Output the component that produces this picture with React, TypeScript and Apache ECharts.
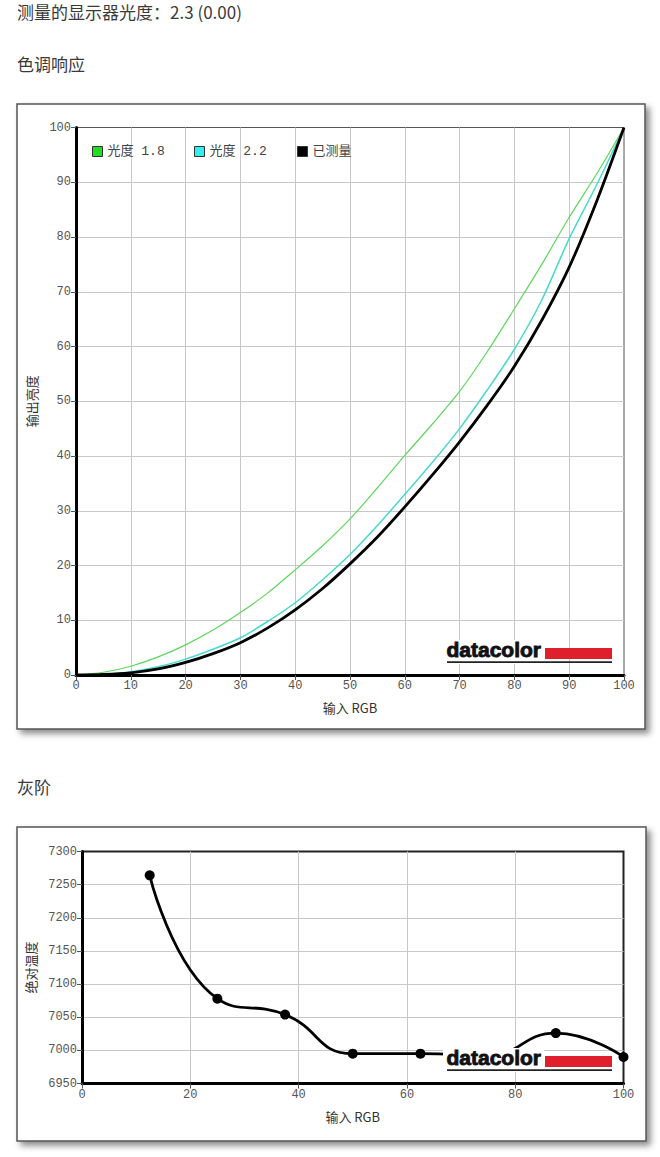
import React, { useEffect, useRef } from "react";
import * as echarts from "echarts";

const inputLevels = [0, 5, 10, 15, 20, 25, 30, 35, 40, 45, 50, 55, 60, 65, 70, 75, 80, 85, 90, 95, 100];
const gamma18 = [0, 0.5, 1.6, 3.3, 5.5, 8.2, 11.4, 15.0, 19.2, 23.6, 28.5, 34.2, 40.1, 45.8, 51.8, 59.0, 66.9, 75.0, 83.6, 91.5, 100];
const gamma22 = [0, 0.1, 0.6, 1.5, 2.9, 4.7, 6.8, 9.8, 13.2, 17.4, 22.0, 27.3, 33.0, 38.8, 45.0, 52.0, 59.5, 68.5, 79.7, 89.5, 100];
const measured = [0, 0.1, 0.4, 1.1, 2.3, 3.9, 5.9, 8.6, 11.9, 15.8, 20.3, 25.2, 30.7, 36.5, 42.6, 49.2, 56.4, 64.8, 74.5, 86.5, 100];

const grayInput = [12.5, 25, 37.5, 50, 62.5, 75, 87.5, 100];
const grayTemp = [7264, 7078, 7054, 6995, 6995, 6993, 7026, 6990];

const legendNames = ["光度 1.8", "光度 2.2", "已测量"];
const headerText = "测量的显示器光度：2.3 (0.00)";
const toneTitle = "色调响应";
const grayTitle = "灰阶";

const MONO = "'Liberation Mono', 'DejaVu Sans Mono', monospace";
const CJK = "'Noto Sans CJK SC', 'Noto Sans', sans-serif";
const MONO_CJK = "'Liberation Mono', 'Noto Sans CJK SC', monospace";

function pairs(xs: number[], ys: number[]) {
  return xs.map((x, i) => [x, ys[i]]);
}

function logo(x: number, y: number) {
  return {
    type: "group",
    x,
    y,
    z: 100,
    children: [
      { type: "rect", z: 100, shape: { x: -4, y: -3, width: 101, height: 24 }, style: { fill: "#fff" } },
      {
        type: "text",
        x: -0.5,
        y: -4,
        z: 101,
        style: {
          text: "datacolor",
          fill: "#111",
          stroke: "#111",
          lineWidth: 0.9,
          font: "bold 21px 'Liberation Sans', Arial, sans-serif",
          verticalAlign: "top",
        },
      },
      { type: "rect", z: 101, shape: { x: 98, y: 5, width: 67, height: 11 }, style: { fill: "#e01f2d" } },
      { type: "rect", z: 101, shape: { x: 0, y: 18.3, width: 165, height: 1.8 }, style: { fill: "#222" } },
    ],
  };
}

function frame(x: number, y: number, w: number, h: number) {
  return {
    type: "rect",
    z: -10,
    shape: { x, y, width: w, height: h },
    style: {
      fill: "#fff",
      stroke: "#555",
      lineWidth: 1.5,
      shadowBlur: 6,
      shadowOffsetX: 4,
      shadowOffsetY: 4,
      shadowColor: "rgba(0,0,0,0.45)",
    },
  };
}

export default function App() {
  const ref = useRef<HTMLDivElement>(null);
  useEffect(() => {
    if (!ref.current) return;
    const chart = echarts.init(ref.current, null, { renderer: "svg" });
    const axisLine = { show: true, onZero: false, lineStyle: { color: "#000", width: 3 } };
    const axisTick = { show: true, length: 5, lineStyle: { color: "#555" } };
    const axisLabel = {
      fontFamily: MONO,
      fontSize: 12,
      color: "#555",
      margin: 5,
      formatter: (v: number) => String(v),
    };
    const splitLine = { show: true, showMaxLine: false, lineStyle: { color: "#c8c8c8", width: 1 } };
    const nameTextStyle = { fontFamily: CJK, fontSize: 13, color: "#333" };

    const legendBase = {
      icon: "rect",
      itemWidth: 10,
      itemHeight: 10,
      itemGap: 5,
      padding: 0,
      textStyle: { fontFamily: MONO_CJK, fontSize: 13, color: "#444" },
      itemStyle: { borderColor: "#333", borderWidth: 1 },
      top: 145,
    };

    chart.setOption({
      animation: false,
      backgroundColor: "#fff",
      graphic: [
        {
          type: "text",
          x: 17,
          y: 11,
          style: { text: headerText, font: `17px ${CJK}`, fill: "#3a3a3a", verticalAlign: "middle" },
        },
        {
          type: "text",
          x: 17,
          y: 63,
          style: { text: toneTitle, font: `17px ${CJK}`, fill: "#3a3a3a", verticalAlign: "middle" },
        },
        {
          type: "text",
          x: 17,
          y: 786,
          style: { text: grayTitle, font: `17px ${CJK}`, fill: "#3a3a3a", verticalAlign: "middle" },
        },
        frame(17, 104, 628, 625),
        frame(17, 827, 629, 314),
        logo(447, 643),
        logo(447, 1051),
      ],
      legend: [
        { ...legendBase, left: 92, data: [legendNames[0]] },
        { ...legendBase, left: 194, data: [legendNames[1]] },
        { ...legendBase, left: 297, data: [legendNames[2]] },
      ],
      grid: [
        { left: 76, right: 36, top: 127.5, bottom: 482, show: true, borderColor: "#555", borderWidth: 1, backgroundColor: "transparent" },
        { left: 82, right: 36.5, top: 851.5, bottom: 73.5, show: true, borderColor: "#222", borderWidth: 2, backgroundColor: "transparent" },
      ],
      xAxis: [
        {
          type: "value",
          gridIndex: 0,
          min: 0,
          max: 100,
          interval: 10,
          axisLine,
          axisTick,
          axisLabel,
          splitLine,
          name: "输入 RGB",
          nameLocation: "middle",
          nameGap: 26,
          nameTextStyle,
        },
        {
          type: "value",
          gridIndex: 1,
          min: 0,
          max: 100,
          interval: 20,
          axisLine,
          axisTick,
          axisLabel,
          splitLine,
          name: "输入 RGB",
          nameLocation: "middle",
          nameGap: 26,
          nameTextStyle,
        },
      ],
      yAxis: [
        {
          type: "value",
          gridIndex: 0,
          min: 0,
          max: 100,
          interval: 10,
          axisLine,
          axisTick,
          axisLabel,
          splitLine,
          name: "输出亮度",
          nameLocation: "middle",
          nameRotate: 90,
          nameGap: 34,
          nameTextStyle,
        },
        {
          type: "value",
          gridIndex: 1,
          min: 6950,
          max: 7300,
          interval: 50,
          axisLine,
          axisTick,
          axisLabel,
          splitLine,
          name: "绝对温度",
          nameLocation: "middle",
          nameRotate: 90,
          nameGap: 42,
          nameTextStyle,
        },
      ],
      series: [
        {
          name: legendNames[0],
          type: "line",
          xAxisIndex: 0,
          yAxisIndex: 0,
          data: pairs(inputLevels, gamma18),
          smooth: 0.3,
          showSymbol: false,
          itemStyle: { color: "#22dd22" },
          lineStyle: { color: "#5ed65e", width: 1.2 },
          z: 3,
        },
        {
          name: legendNames[1],
          type: "line",
          xAxisIndex: 0,
          yAxisIndex: 0,
          data: pairs(inputLevels, gamma22),
          smooth: 0.3,
          showSymbol: false,
          itemStyle: { color: "#33eeee" },
          lineStyle: { color: "#47d9cf", width: 1.5 },
          z: 4,
        },
        {
          name: legendNames[2],
          type: "line",
          xAxisIndex: 0,
          yAxisIndex: 0,
          data: pairs(inputLevels, measured),
          smooth: 0.3,
          showSymbol: false,
          itemStyle: { color: "#000" },
          lineStyle: { color: "#000", width: 2.8 },
          z: 5,
        },
        {
          name: "灰阶",
          type: "line",
          xAxisIndex: 1,
          yAxisIndex: 1,
          data: pairs(grayInput, grayTemp),
          smooth: 0.5,
          symbol: "circle",
          symbolSize: 10,
          itemStyle: { color: "#000" },
          lineStyle: { color: "#000", width: 2.8 },
          z: 5,
        },
      ],
    });
    return () => chart.dispose();
  }, []);
  return (
    <div
      ref={ref}
      style={{ position: "absolute", left: 0, top: 0, width: 660, height: 1157, background: "#fff" }}
    />
  );
}
